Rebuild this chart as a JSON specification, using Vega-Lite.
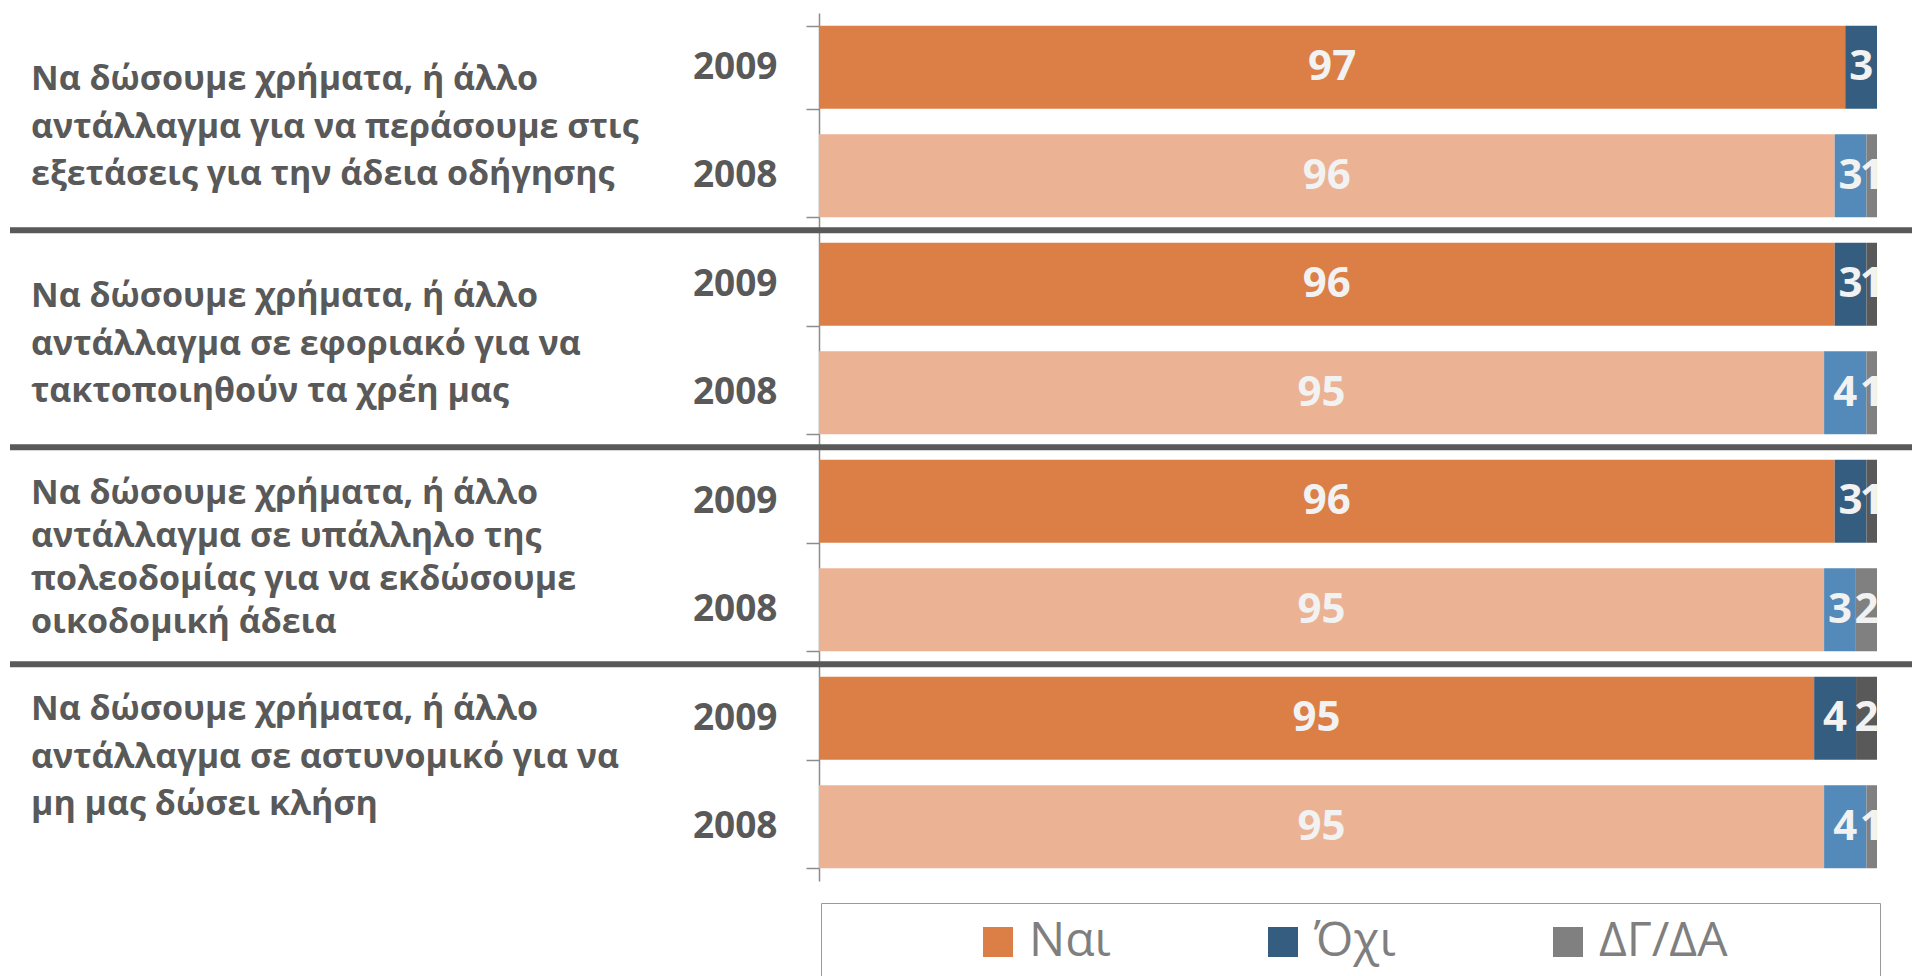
{
  "$schema": "https://vega.github.io/schema/vega-lite/v6.json",
  "autosize": "none",
  "width": 1902,
  "height": 868,
  "padding": {"left": 10, "top": 13, "right": 0, "bottom": 95},
  "background": "white",
  "config": {"view": {"stroke": null}, "font": "Open Sans"},
  "datasets": {
    "bars": [
      {"group": 1, "row": "1-2009", "year": 2009, "series": "Ναι", "order": 1, "value": 97},
      {"group": 1, "row": "1-2009", "year": 2009, "series": "Όχι", "order": 2, "value": 3},
      {"group": 1, "row": "1-2008", "year": 2008, "series": "Ναι", "order": 1, "value": 96},
      {"group": 1, "row": "1-2008", "year": 2008, "series": "Όχι", "order": 2, "value": 3},
      {"group": 1, "row": "1-2008", "year": 2008, "series": "ΔΓ/ΔΑ", "order": 3, "value": 1},
      {"group": 2, "row": "2-2009", "year": 2009, "series": "Ναι", "order": 1, "value": 96},
      {"group": 2, "row": "2-2009", "year": 2009, "series": "Όχι", "order": 2, "value": 3},
      {"group": 2, "row": "2-2009", "year": 2009, "series": "ΔΓ/ΔΑ", "order": 3, "value": 1},
      {"group": 2, "row": "2-2008", "year": 2008, "series": "Ναι", "order": 1, "value": 95},
      {"group": 2, "row": "2-2008", "year": 2008, "series": "Όχι", "order": 2, "value": 4},
      {"group": 2, "row": "2-2008", "year": 2008, "series": "ΔΓ/ΔΑ", "order": 3, "value": 1},
      {"group": 3, "row": "3-2009", "year": 2009, "series": "Ναι", "order": 1, "value": 96},
      {"group": 3, "row": "3-2009", "year": 2009, "series": "Όχι", "order": 2, "value": 3},
      {"group": 3, "row": "3-2009", "year": 2009, "series": "ΔΓ/ΔΑ", "order": 3, "value": 1},
      {"group": 3, "row": "3-2008", "year": 2008, "series": "Ναι", "order": 1, "value": 95},
      {"group": 3, "row": "3-2008", "year": 2008, "series": "Όχι", "order": 2, "value": 3},
      {"group": 3, "row": "3-2008", "year": 2008, "series": "ΔΓ/ΔΑ", "order": 3, "value": 2},
      {"group": 4, "row": "4-2009", "year": 2009, "series": "Ναι", "order": 1, "value": 95},
      {"group": 4, "row": "4-2009", "year": 2009, "series": "Όχι", "order": 2, "value": 4},
      {"group": 4, "row": "4-2009", "year": 2009, "series": "ΔΓ/ΔΑ", "order": 3, "value": 2},
      {"group": 4, "row": "4-2008", "year": 2008, "series": "Ναι", "order": 1, "value": 95},
      {"group": 4, "row": "4-2008", "year": 2008, "series": "Όχι", "order": 2, "value": 4},
      {"group": 4, "row": "4-2008", "year": 2008, "series": "ΔΓ/ΔΑ", "order": 3, "value": 1}
    ],
    "questions": [
      {"group": 1, "anchor": "1-2009", "text": "Να δώσουμε χρήματα, ή άλλο\nαντάλλαγμα για να περάσουμε στις\nεξετάσεις για την άδεια οδήγησης"},
      {"group": 2, "anchor": "2-2009", "text": "Να δώσουμε χρήματα, ή άλλο\nαντάλλαγμα σε εφοριακό για να\nτακτοποιηθούν τα χρέη μας"},
      {"group": 3, "anchor": "3-2009", "text": "Να δώσουμε χρήματα, ή άλλο\nαντάλλαγμα σε υπάλληλο της\nπολεοδομίας για να εκδώσουμε\nοικοδομική άδεια"},
      {"group": 4, "anchor": "4-2009", "text": "Να δώσουμε χρήματα, ή άλλο\nαντάλλαγμα σε αστυνομικό για να\nμη μας δώσει κλήση"}
    ]
  },
  "layer": [
    {
      "data": {"name": "bars"},
      "transform": [
        {"stack": "value", "groupby": ["row"], "sort": [{"field": "order", "order": "ascending"}], "offset": "normalize", "as": ["x0", "x1"]},
        {"calculate": "datum.series + ' ' + datum.year", "as": "cat"},
        {"calculate": "(datum.x0 + datum.x1) / 2", "as": "mid"}
      ],
      "layer": [
        {
          "mark": {"type": "bar"},
          "encoding": {
            "y": {
              "field": "row", "type": "nominal",
              "scale": {"domain": ["1-2009", "1-2008", "2-2009", "2-2008", "3-2009", "3-2008", "4-2009", "4-2008"], "paddingInner": 0.235, "paddingOuter": 0.1175},
              "axis": {
                "title": null, "orient": "left", "offset": -809,
                "domainColor": "#8C8C8C", "domainWidth": 1.5,
                "tickColor": "#8C8C8C", "tickWidth": 1.5, "tickSize": 13, "tickBand": "extent",
                "labelExpr": "split(datum.label, '-')[1]",
                "labelFont": "Open Sans", "labelFontSize": 37, "labelFontWeight": "bold",
                "labelColor": "#595959", "labelPadding": 29, "labelLimit": 300
              }
            },
            "x": {"field": "x0", "type": "quantitative", "scale": {"domain": [-0.76465, 1.03308], "nice": false, "zero": false}, "axis": null},
            "x2": {"field": "x1"},
            "color": {
              "field": "cat", "type": "nominal",
              "scale": {
                "domain": ["Ναι 2009", "Όχι 2009", "ΔΓ/ΔΑ 2009", "Ναι 2008", "Όχι 2008", "ΔΓ/ΔΑ 2008"],
                "range": ["#DB7F47", "#355D7F", "#595959", "#ECB294", "#548AB9", "#808080"]
              },
              "legend": {
                "orient": "none", "legendX": 811, "legendY": 890, "direction": "horizontal", "title": null,
                "values": ["Ναι 2009", "Όχι 2009", "ΔΓ/ΔΑ 2008"],
                "labelExpr": "datum.value == 'ΔΓ/ΔΑ 2008' ? 'ΔΓ/ΔΑ\u00a0\u00a0\u00a0\u00a0\u00a0\u00a0\u00a0\u00a0\u00a0\u00a0\u00a0\u200b' : split(datum.label, ' ')[0]",
                "symbolType": "square", "symbolSize": 900, "symbolStrokeWidth": 0,
                "symbolOffset": 138, "labelOffset": 7, "columnPadding": 10,
                "labelFont": "Open Sans", "labelFontSize": 48, "labelColor": "#7F7F7F", "labelLimit": 600,
                "padding": 15, "strokeColor": "#9A9A9A"
              }
            }
          }
        },
        {
          "mark": {"type": "text", "font": "Open Sans", "fontSize": 42, "fontWeight": "bold", "color": "#F2F2F2", "align": "center", "baseline": "middle"},
          "encoding": {
            "y": {"field": "row", "type": "nominal"},
            "x": {"field": "mid", "type": "quantitative"},
            "text": {"field": "value", "type": "quantitative"}
          }
        }
      ]
    },
    {
      "data": {"name": "bars"},
      "transform": [{"filter": "datum.group > 1 && datum.year == 2009 && datum.order == 1"}],
      "mark": {"type": "rule", "color": "#595959", "strokeWidth": 6},
      "encoding": {
        "y": {"field": "row", "type": "nominal", "bandPosition": -0.15}
      }
    },
    {
      "data": {"name": "questions"},
      "transform": [{"filter": "datum.group <= 2"}],
      "mark": {"type": "text", "align": "left", "baseline": "middle", "dy": 13, "lineBreak": "\n", "lineHeight": 47.6, "font": "Open Sans", "fontSize": 34, "fontWeight": "bold", "color": "#595959"},
      "encoding": {
        "y": {"field": "anchor", "type": "nominal"},
        "x": {"datum": -0.7448, "type": "quantitative"},
        "text": {"field": "text", "type": "nominal"}
      }
    },
    {
      "data": {"name": "questions"},
      "transform": [{"filter": "datum.group == 3"}],
      "mark": {"type": "text", "align": "left", "baseline": "middle", "dy": -7, "lineBreak": "\n", "lineHeight": 43, "font": "Open Sans", "fontSize": 34, "fontWeight": "bold", "color": "#595959"},
      "encoding": {
        "y": {"field": "anchor", "type": "nominal"},
        "x": {"datum": -0.7448, "type": "quantitative"},
        "text": {"field": "text", "type": "nominal"}
      }
    },
    {
      "data": {"name": "questions"},
      "transform": [{"filter": "datum.group == 4"}],
      "mark": {"type": "text", "align": "left", "baseline": "middle", "dy": -8, "lineBreak": "\n", "lineHeight": 47.6, "font": "Open Sans", "fontSize": 34, "fontWeight": "bold", "color": "#595959"},
      "encoding": {
        "y": {"field": "anchor", "type": "nominal"},
        "x": {"datum": -0.7448, "type": "quantitative"},
        "text": {"field": "text", "type": "nominal"}
      }
    }
  ]
}
